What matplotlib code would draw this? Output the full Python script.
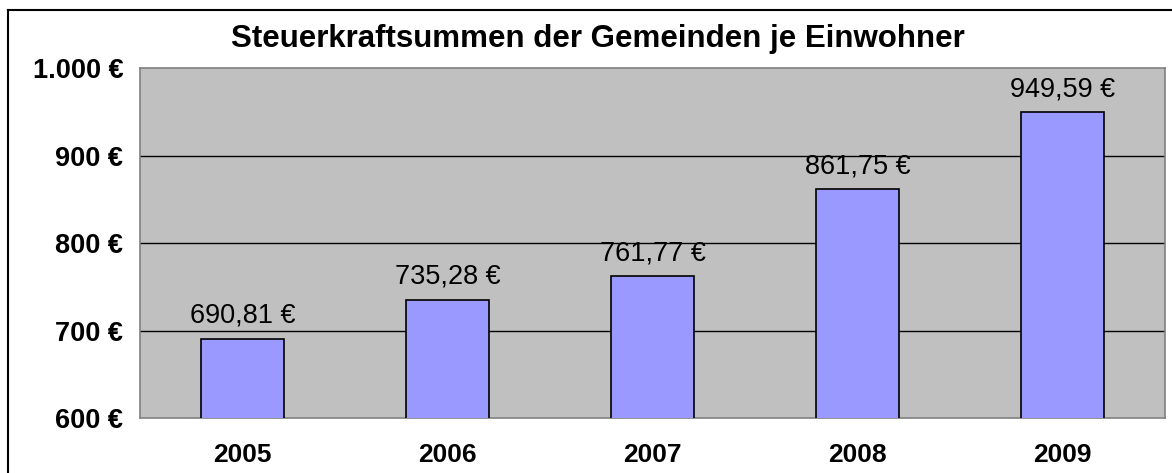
import matplotlib
matplotlib.use("Agg")
import matplotlib.pyplot as plt
from matplotlib.lines import Line2D

# data
years = ["2005", "2006", "2007", "2008", "2009"]
values = [690.81, 735.28, 761.77, 861.75, 949.59]
y_ticks = [600, 700, 800, 900, 1000]
y_tick_labels = ["600 €", "700 €", "800 €", "900 €", "1.000 €"]
title = "Steuerkraftsummen der Gemeinden je Einwohner"

plt.rcParams['font.family'] = ['Liberation Sans', 'DejaVu Sans']

W, H = 1172, 473
fig = plt.figure(figsize=(W / 100, H / 100), dpi=100)
ax = fig.add_axes([140 / W, 1 - 418 / H, 1025 / W, 350 / H])
ax.set_facecolor("#C0C0C0")

x = range(len(years))
bars = ax.bar(x, values, width=0.405, color="#9999FF", edgecolor="black",
              linewidth=1.2, zorder=3)
ax.set_xlim(-0.5, len(years) - 0.5)
ax.set_ylim(600, 1000)

ax.set_yticks(y_ticks)
ax.set_yticklabels(y_tick_labels, fontsize=19.5, fontweight="bold")
ax.set_xticks(list(x))
ax.set_xticklabels(years, fontsize=19, fontweight="bold")
ax.tick_params(axis="both", length=0)
ax.tick_params(axis="x", pad=18)
ax.tick_params(axis="y", pad=12)

for t in y_ticks[1:-1]:
    ax.axhline(t, color="black", linewidth=1.0, zorder=2)

for s in ax.spines.values():
    s.set_color("#808080")
    s.set_linewidth(1.2)

for b, v in zip(bars, values):
    lbl = f"{v:.2f}".replace(".", ",") + " €"
    ax.annotate(lbl, (b.get_x() + b.get_width() / 2, v), xytext=(0, 7),
                textcoords="offset points", ha="center", va="bottom",
                fontsize=19.5, zorder=4)

fig.text(598 / W, 1 - 39 / H, title, ha="center", va="center",
         fontsize=22.5, fontweight="bold")

# outer frame (clipped on right and bottom like the original)
fig.add_artist(Line2D([8 / W, 8 / W], [0, 1 - 10 / H], transform=fig.transFigure,
                      color="black", linewidth=1.5))
fig.add_artist(Line2D([8 / W, 1], [1 - 10 / H, 1 - 10 / H], transform=fig.transFigure,
                      color="black", linewidth=1.5))

fig.savefig("out.png", dpi=100)
